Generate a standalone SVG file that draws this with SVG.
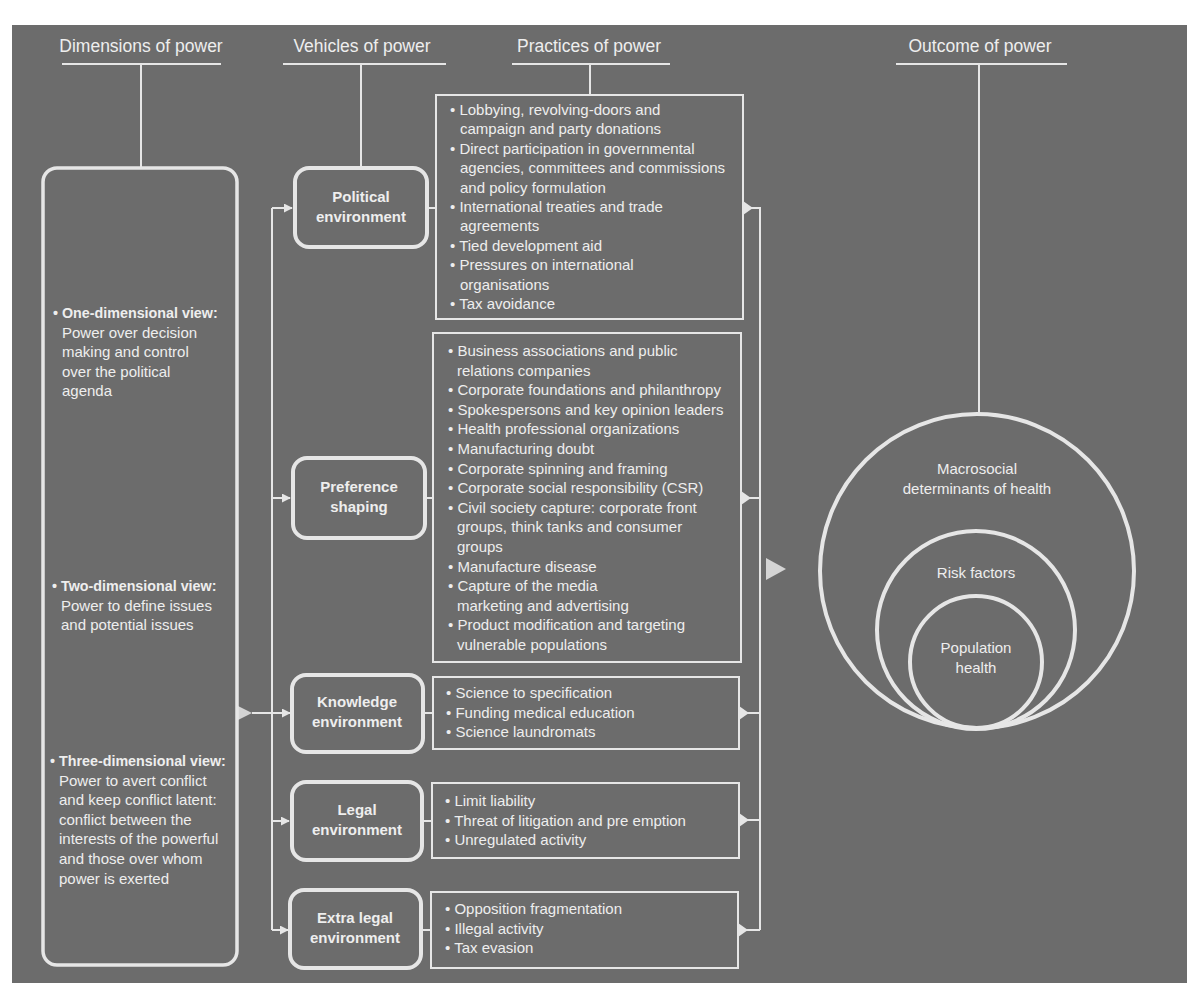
<svg xmlns="http://www.w3.org/2000/svg" width="1198" height="995" viewBox="0 0 1198 995">
<style>
text{font-family:"Liberation Sans",Arial,sans-serif;fill:#eeeeee}
.h{font-size:17.5px}
.t{font-size:15px}
.b{font-weight:bold}
.bs{font-weight:bold;font-size:14.3px}
.c{text-anchor:middle}
.ln{stroke:#e6e6e6;stroke-width:2;fill:none}
.veh{fill:none;stroke:#e6e6e6;stroke-width:4}
.prac{fill:none;stroke:#e6e6e6;stroke-width:2}
.circ{fill:none;stroke:#e6e6e6;stroke-width:4}
.tri{fill:#d4d4d4}
.rt{fill:#e6e6e6}
</style>
<defs>
<marker id="ah" viewBox="0 0 10 10" refX="9" refY="5" markerWidth="4.5" markerHeight="4.5" orient="auto" markerUnits="strokeWidth"><path d="M0,0 L10,5 L0,10 z" fill="#e6e6e6"/></marker>
</defs>
<rect x="0" y="0" width="1198" height="995" fill="#ffffff"/>
<rect x="12" y="25" width="1175" height="958" fill="#6c6c6c"/>

<g id="headers">
<text class="h c" x="141" y="52">Dimensions of power</text>
<text class="h c" x="362" y="52">Vehicles of power</text>
<text class="h c" x="589" y="52">Practices of power</text>
<text class="h c" x="980" y="52">Outcome of power</text>
<path class="ln" d="M62,64 H221 M283,64 H446 M512,64 H670 M896,64 H1067"/>
</g>

<g id="connectors">
<path class="ln" d="M141,64 V168 M361,64 V168 M590,64 V95 M979,64 V413"/>
<polygon class="tri" points="236,705 252,713 236,721"/>
<path class="ln" d="M252,713 H290" marker-end="url(#ah)"/>
<path class="ln" d="M272,208 V930"/>
<path class="ln" d="M272,208 H292" marker-end="url(#ah)"/>
<path class="ln" d="M272,498 H290" marker-end="url(#ah)"/>
<path class="ln" d="M272,821 H289" marker-end="url(#ah)"/>
<path class="ln" d="M272,930 H288" marker-end="url(#ah)"/>
<path class="ln" d="M427,208 H436 M425,498 H433 M423,713 H433 M422,821 H432 M421,930 H431"/>
<path class="ln" d="M743,208 H760 V930 M741,498 H760 M739,713 H760 M739,820 H760 M738,930 H760"/>
<polygon class="rt" points="743,201 753,208 743,215"/>
<polygon class="rt" points="741,491 751,498 741,505"/>
<polygon class="rt" points="739,706 749,713 739,720"/>
<polygon class="rt" points="739,813 749,820 739,827"/>
<polygon class="rt" points="738,923 748,930 738,937"/>
<polygon class="tri" points="766,558 786,569 766,580"/>
</g>

<g id="dimensions">
<rect x="43" y="168" width="194" height="797" rx="14" fill="none" stroke="#e6e6e6" stroke-width="3.5"/>
<text class="t" x="53" y="318"><tspan class="bs">• One-dimensional view:</tspan><tspan x="62" dy="19.5">Power over decision</tspan><tspan x="62" dy="19.5">making and control</tspan><tspan x="62" dy="19.5">over the political</tspan><tspan x="62" dy="19.5">agenda</tspan></text>
<text class="t" x="52" y="591"><tspan class="bs">• Two-dimensional view:</tspan><tspan x="61" dy="19.5">Power to define issues</tspan><tspan x="61" dy="19.5">and potential issues</tspan></text>
<text class="t" x="50" y="766"><tspan class="bs">• Three-dimensional view:</tspan><tspan x="59" dy="19.6">Power to avert conflict</tspan><tspan x="59" dy="19.6">and keep conflict latent:</tspan><tspan x="59" dy="19.6">conflict between the</tspan><tspan x="59" dy="19.6">interests of the powerful</tspan><tspan x="59" dy="19.6">and those over whom</tspan><tspan x="59" dy="19.6">power is exerted</tspan></text>
</g>

<g id="v-political">
<rect class="veh" x="295" y="168" width="132" height="79" rx="14"/>
<text class="t b c" x="361" y="202">Political<tspan x="361" dy="20">environment</tspan></text>
</g>
<g id="v-preference">
<rect class="veh" x="293" y="458" width="132" height="80" rx="14"/>
<text class="t b c" x="359" y="492">Preference<tspan x="359" dy="20">shaping</tspan></text>
</g>
<g id="v-knowledge">
<rect class="veh" x="292" y="675" width="131" height="77" rx="14"/>
<text class="t b c" x="357" y="707">Knowledge<tspan x="357" dy="20">environment</tspan></text>
</g>
<g id="v-legal">
<rect class="veh" x="292" y="782" width="130" height="78" rx="14"/>
<text class="t b c" x="357" y="815">Legal<tspan x="357" dy="20">environment</tspan></text>
</g>
<g id="v-extralegal">
<rect class="veh" x="290" y="890" width="131" height="78" rx="14"/>
<text class="t b c" x="355" y="923">Extra legal<tspan x="355" dy="20">environment</tspan></text>
</g>

<g id="p-political">
<rect class="prac" x="436" y="95" width="307" height="224"/>
<text class="t" x="450" y="115">• Lobbying, revolving-doors and<tspan x="460" dy="19.4">campaign and party donations</tspan><tspan x="450" dy="19.4">• Direct participation in governmental</tspan><tspan x="460" dy="19.4">agencies, committees and commissions</tspan><tspan x="460" dy="19.4">and policy formulation</tspan><tspan x="450" dy="19.4">• International treaties and trade</tspan><tspan x="460" dy="19.4">agreements</tspan><tspan x="450" dy="19.4">• Tied development aid</tspan><tspan x="450" dy="19.4">• Pressures on international</tspan><tspan x="460" dy="19.4">organisations</tspan><tspan x="450" dy="19.4">• Tax avoidance</tspan></text>
</g>
<g id="p-preference">
<rect class="prac" x="433" y="333" width="308" height="329"/>
<text class="t" x="448" y="356">• Business associations and public<tspan x="457" dy="19.6">relations companies</tspan><tspan x="448" dy="19.6">• Corporate foundations and philanthropy</tspan><tspan x="448" dy="19.6">• Spokespersons and key opinion leaders</tspan><tspan x="448" dy="19.6">• Health professional organizations</tspan><tspan x="448" dy="19.6">• Manufacturing doubt</tspan><tspan x="448" dy="19.6">• Corporate spinning and framing</tspan><tspan x="448" dy="19.6">• Corporate social responsibility (CSR)</tspan><tspan x="448" dy="19.6">• Civil society capture: corporate front</tspan><tspan x="457" dy="19.6">groups, think tanks and consumer</tspan><tspan x="457" dy="19.6">groups</tspan><tspan x="448" dy="19.6">• Manufacture disease</tspan><tspan x="448" dy="19.6">• Capture of the media</tspan><tspan x="457" dy="19.6">marketing and advertising</tspan><tspan x="448" dy="19.6">• Product modification and targeting</tspan><tspan x="457" dy="19.6">vulnerable populations</tspan></text>
</g>
<g id="p-knowledge">
<rect class="prac" x="433" y="677" width="306" height="72"/>
<text class="t" x="446" y="698">• Science to specification<tspan x="446" dy="19.6">• Funding medical education</tspan><tspan x="446" dy="19.6">• Science laundromats</tspan></text>
</g>
<g id="p-legal">
<rect class="prac" x="432" y="783" width="307" height="75"/>
<text class="t" x="445" y="806">• Limit liability<tspan x="445" dy="19.6">• Threat of litigation and pre emption</tspan><tspan x="445" dy="19.6">• Unregulated activity</tspan></text>
</g>
<g id="p-extralegal">
<rect class="prac" x="431" y="892" width="307" height="76"/>
<text class="t" x="445" y="914">• Opposition fragmentation<tspan x="445" dy="19.6">• Illegal activity</tspan><tspan x="445" dy="19.6">• Tax evasion</tspan></text>
</g>

<g id="outcome">
<circle class="circ" cx="977" cy="571" r="157"/>
<circle class="circ" cx="976" cy="630" r="99"/>
<circle class="circ" cx="976" cy="662" r="66"/>
<text class="t c" x="977" y="474">Macrosocial<tspan x="977" dy="20">determinants of health</tspan></text>
<text class="t c" x="976" y="578">Risk factors</text>
<text class="t c" x="976" y="653">Population<tspan x="976" dy="19.5">health</tspan></text>
</g>
</svg>
